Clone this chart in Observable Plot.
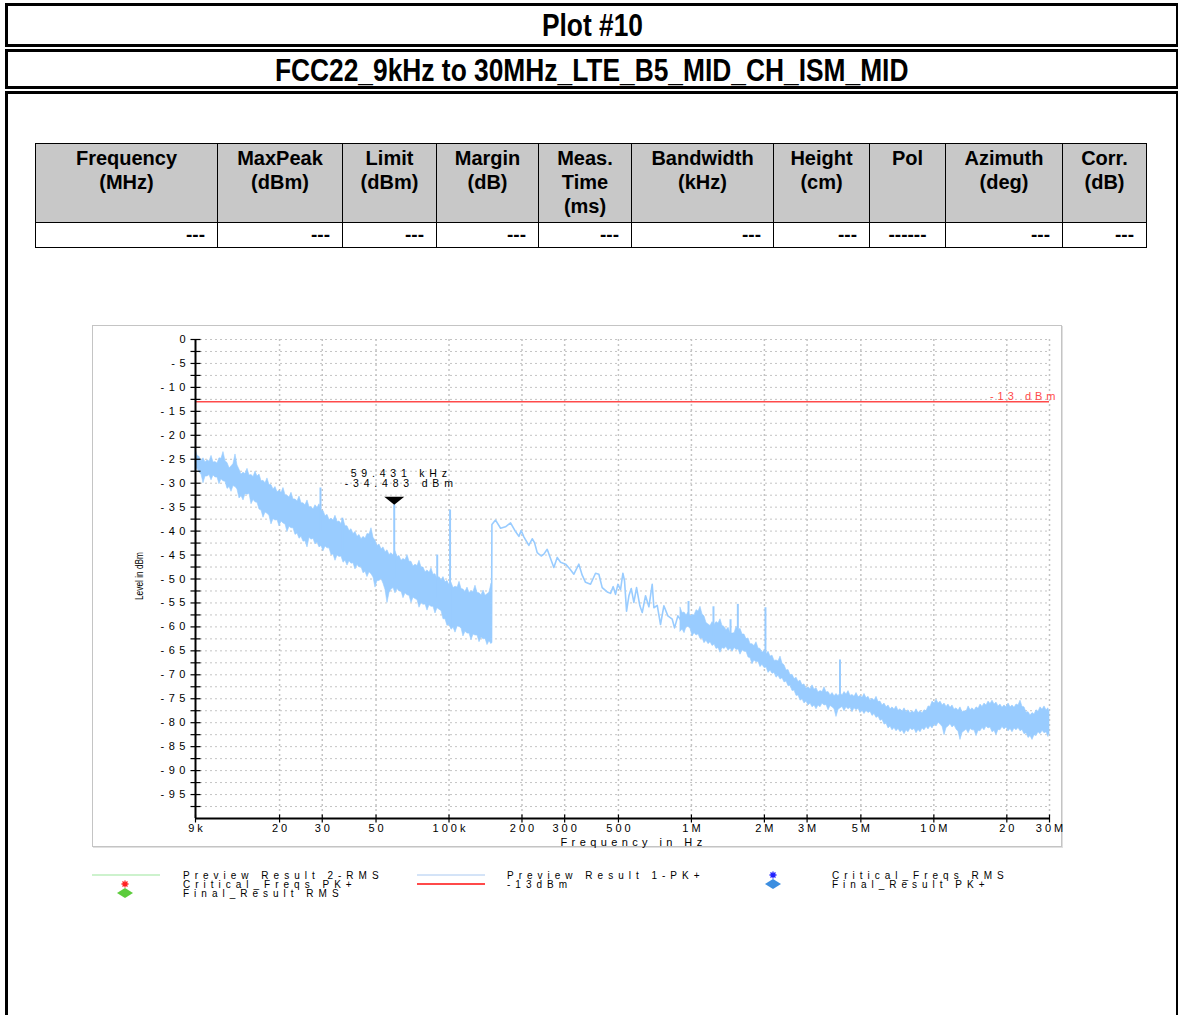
<!DOCTYPE html>
<html>
<head>
<meta charset="utf-8">
<script src="https://cdn.jsdelivr.net/npm/d3@7"></script>
<script src="https://cdn.jsdelivr.net/npm/@observablehq/plot@0.6"></script>
<style>
  html, body { margin: 0; padding: 0; background: #fff; }
  #page { position: relative; width: 1178px; height: 1015px; overflow: hidden; font-family: "Liberation Sans", Arial, sans-serif; color: #000; }
  .frame { position: absolute; left: 5px; width: 1168px; border: 3px solid #000; }
  .hdr { font-family: "Liberation Sans", Arial, sans-serif; font-weight: bold; font-size: 31px; text-align: center; }
  .hdr span { display: inline-block; transform: scaleX(0.85); transform-origin: center; }
  #f1 { top: 3px; height: 38px; line-height: 40px; }
  #f2 { top: 49px; height: 34px; line-height: 38px; }
  #f3 { top: 91px; height: 1000px; }
  table.res { position: absolute; left: 35px; top: 143px; border-collapse: collapse; table-layout: fixed; font-family: "Liberation Sans", Arial, sans-serif; }
  table.res th, table.res td { border: 1px solid #000; padding: 0; }
  table.res th { background: #c8c8c8; font-weight: bold; font-size: 20px; line-height: 24px; height: 76px; vertical-align: top; text-align: center; padding-top: 2px; }
  table.res td { font-weight: bold; font-size: 19px; height: 24px; line-height: 24px; text-align: right; padding-right: 12px; }
  table.res td.c { text-align: center; padding-right: 0; }
  #panel { position: absolute; left: 92px; top: 325px; width: 968px; height: 520px; border: 1px solid #c4c4c4; box-shadow: 1px 1px 0 #e0e0e0; }
  #chart { position: absolute; left: 92px; top: 325px; }
  #chart text[aria-label="xtick"], #chart [aria-description="xtick"] text { letter-spacing: 3px; }
  #chart text[aria-label="ytick"], #chart [aria-description="ytick"] text { letter-spacing: 4.5px; }
  #chart text[aria-label="xtitle"], #chart [aria-description="xtitle"] text { letter-spacing: 4.4px; }
  #chart text[aria-label="mlabel"], #chart [aria-description="mlabel"] text { letter-spacing: 4.8px; }
  #chart text[aria-label="llabel"], #chart [aria-description="llabel"] text { letter-spacing: 4px; }
  .leg { position: absolute; font-size: 10px; letter-spacing: 5px; line-height: 9px; height: 9px; white-space: nowrap; }
  .icon { position: absolute; }
</style>
</head>
<body>
<div id="page">
  <div class="frame hdr" id="f1"><span>Plot #10</span></div>
  <div class="frame hdr" id="f2"><span>FCC22_9kHz to 30MHz_LTE_B5_MID_CH_ISM_MID</span></div>
  <div class="frame" id="f3"></div>
  <div id="tablehost"></div>
  <div id="panel"></div>
  <div id="chart"></div>
  <div id="legend"></div>
</div>
<script>
// ---------------- data ----------------
const tableHeaders = ["Frequency<br>(MHz)", "MaxPeak<br>(dBm)", "Limit<br>(dBm)", "Margin<br>(dB)", "Meas.<br>Time<br>(ms)", "Bandwidth<br>(kHz)", "Height<br>(cm)", "Pol", "Azimuth<br>(deg)", "Corr.<br>(dB)"];
const tableValues = ["---", "---", "---", "---", "---", "---", "---", "------", "---", "---"];
const tableColWidths = [182, 125, 94, 102, 93, 142, 96, 76, 117, 84];

// Preview Result 1-PK+, 9 kHz - 150 kHz: noise envelope (peaks)
const noise1FreqKHz = [9.00, 9.35, 9.71, 10.09, 10.48, 10.88, 11.30, 11.74, 12.20, 12.67,
  13.16, 13.67, 14.20, 14.75, 15.32, 15.91, 16.53, 17.17, 17.83, 18.52,
  19.24, 19.99, 20.76, 21.56, 22.40, 23.27, 24.17, 25.10, 26.08, 27.09,
  28.13, 29.22, 30.36, 31.53, 32.75, 34.02, 35.34, 36.71, 38.13, 39.60,
  41.14, 42.73, 44.39, 46.10, 47.89, 49.74, 51.67, 53.67, 55.75, 57.91,
  60.15, 62.48, 64.90, 67.41, 70.02, 72.74, 75.55, 78.48, 81.52, 84.67,
  87.95, 91.36, 94.90, 98.57, 102.4, 106.4, 110.5, 114.7, 119.2, 123.8,
  128.6, 133.6, 138.8, 144.1, 149.7];
const noise1High = [-22.7, -24.5, -24.8, -25.2, -24.3, -25.6, -24.8, -23.5, -25.8, -26.5,
  -24.0, -27.2, -27.8, -27.0, -28.3, -27.6, -28.2, -29.5, -29.0, -30.4,
  -30.8, -31.6, -31.0, -32.6, -32.0, -33.4, -32.8, -34.2, -33.6, -35.0,
  -34.6, -34.4, -35.8, -36.6, -37.4, -36.8, -38.0, -37.6, -39.0, -39.6,
  -40.2, -40.8, -41.2, -40.6, -39.4, -42.0, -42.8, -43.4, -44.0, -44.6,
  -44.2, -45.2, -45.8, -45.0, -46.4, -47.0, -46.2, -47.6, -48.2, -47.8,
  -49.0, -49.6, -49.6, -50.4, -50.8, -51.6, -50.6, -52.2, -51.8, -52.6,
  -51.4, -53.0, -52.4, -53.2, -51.0];
const noise1Low = [-27.5, -27.8, -30.0, -28.6, -29.4, -28.8, -30.2, -29.6, -31.2, -31.8,
  -30.8, -33.2, -33.6, -32.4, -34.4, -34.0, -35.5, -37.2, -36.4, -38.6,
  -37.8, -39.0, -38.4, -40.2, -39.4, -40.8, -41.6, -42.2, -43.4, -41.8,
  -42.8, -43.4, -44.2, -43.6, -45.0, -46.2, -45.4, -46.6, -47.2, -46.8,
  -48.0, -47.6, -48.8, -49.6, -49.0, -51.8, -50.4, -51.0, -55.0, -52.2,
  -53.0, -52.6, -54.0, -53.4, -55.0, -54.2, -56.0, -55.4, -56.6, -55.8,
  -57.2, -56.4, -58.4, -59.8, -60.6, -61.2, -60.0, -62.0, -61.4, -62.8,
  -61.8, -63.2, -62.6, -63.8, -63.6];
// in-between sweep points of the same band (shallow valleys of the noise)
const noise1MidFreqKHz = [9.17, 9.53, 9.90, 10.28, 10.68, 11.09, 11.52, 11.97, 12.44, 12.91,
  13.41, 13.93, 14.47, 15.03, 15.62, 16.22, 16.85, 17.50, 18.17, 18.88,
  19.61, 20.38, 21.16, 21.98, 22.83, 23.72, 24.64, 25.58, 26.58, 27.61,
  28.67, 29.78, 30.95, 32.14, 33.38, 34.68, 36.02, 37.42, 38.87, 40.36,
  41.93, 43.55, 45.25, 46.99, 48.81, 50.70, 52.67, 54.71, 56.83, 59.03,
  61.31, 63.69, 66.15, 68.71, 71.37, 74.14, 77.01, 80.00, 83.09, 86.30,
  89.65, 93.12, 96.73, 100.5, 104.4, 108.5, 112.6, 116.9, 121.5, 126.2,
  131.1, 136.2, 141.5, 146.9];
const noise1MidHigh = [-24.3, -25.4, -25.7, -25.5, -25.7, -25.9, -24.9, -25.4, -26.9, -26.0,
  -26.3, -28.2, -28.1, -28.4, -28.7, -28.6, -29.6, -30.0, -30.4, -31.3,
  -31.9, -32.0, -32.5, -33.0, -33.4, -33.8, -34.2, -34.6, -35.0, -35.5,
  -35.2, -35.8, -36.9, -37.7, -37.8, -38.1, -38.5, -39.0, -40.0, -40.6,
  -41.2, -41.7, -41.6, -40.7, -41.4, -43.1, -43.8, -44.4, -45.0, -45.1,
  -45.4, -46.2, -46.1, -46.4, -47.4, -47.3, -47.6, -48.6, -48.7, -49.1,
  -50.0, -50.3, -50.7, -51.3, -51.9, -51.8, -52.1, -52.7, -52.9, -52.7,
  -52.9, -53.4, -53.5, -52.8];
const noise1MidLow = [-27.0, -28.2, -28.6, -28.3, -28.4, -28.8, -29.2, -29.7, -30.8, -30.6,
  -31.3, -32.7, -32.3, -32.2, -33.5, -34.1, -35.7, -36.1, -36.8, -37.5,
  -37.7, -38.0, -38.6, -39.1, -39.4, -40.5, -41.2, -42.1, -41.4, -41.6,
  -42.4, -43.1, -43.2, -43.6, -44.9, -45.1, -45.3, -46.2, -46.3, -46.7,
  -47.1, -47.5, -48.5, -48.6, -49.7, -50.4, -50.0, -52.3, -52.9, -51.9,
  -52.1, -52.6, -53.0, -53.5, -53.9, -54.4, -55.0, -55.3, -55.5, -55.8,
  -56.1, -56.7, -58.4, -59.5, -60.2, -59.9, -60.3, -61.0, -61.4, -61.6,
  -61.8, -62.2, -62.5, -63.0];

// Preview Result 1-PK+, 150 kHz - 900 kHz: single sweep trace
const sweepFreqKHz = [149.7, 150.3, 155.6, 163.2, 171.0, 179.4, 188.1, 194.2, 198.5, 203.6,
  213.5, 220.4, 225.3, 231.1, 240.0, 246.2, 254.1, 262.3, 270.7, 279.5,
  288.5, 302.5, 315.3, 327.4, 343.3, 354.4, 365.8, 383.6, 402.2, 415.1,
  428.5, 449.3, 463.8, 475.7, 486.4, 497.4, 510.0, 521.5, 529.8, 540.0,
  552.2, 564.6, 578.9, 593.8, 612.9, 626.7, 646.7, 667.6, 689.0, 700.1,
  722.7, 745.6, 769.7, 799.5, 833.3, 851.9, 879.2, 901.6];
const sweepLevel = [-63.2, -38.6, -37.7, -39.4, -39.1, -38.3, -40.1, -41.1, -39.9, -41.2,
  -43.0, -41.6, -42.4, -44.5, -45.2, -44.8, -43.8, -45.7, -47.6, -45.5,
  -46.5, -46.9, -47.9, -49.0, -46.9, -49.2, -50.7, -51.1, -48.8, -49.0,
  -51.8, -52.7, -53.0, -51.6, -53.2, -51.1, -52.2, -48.8, -50.4, -56.7,
  -53.5, -52.0, -54.9, -51.8, -55.6, -57.0, -53.5, -55.8, -51.1, -56.0,
  -55.5, -59.5, -55.6, -57.7, -58.4, -60.2, -57.7, -58.5];

// Preview Result 1-PK+, 900 kHz - 30 MHz: noise envelope (peaks)
const noise2FreqKHz = [901.6, 936.7, 972.8, 1011, 1050, 1090, 1132, 1176, 1222, 1269,
  1318, 1369, 1423, 1478, 1535, 1594, 1656, 1720, 1786, 1855,
  1927, 2003, 2080, 2160, 2244, 2331, 2421, 2515, 2613, 2714,
  2818, 2927, 3041, 3159, 3281, 3408, 3540, 3678, 3820, 3967,
  4121, 4281, 4447, 4618, 4798, 4983, 5176, 5377, 5585, 5801,
  6026, 6259, 6502, 6753, 7015, 7287, 7569, 7862, 8167, 8482,
  8811, 9152, 9507, 9875, 10260, 10660, 11070, 11490, 11940, 12400,
  12880, 13380, 13910, 14440, 15000, 15580, 16180, 16810, 17460, 18130,
  18830, 19560, 20330, 21110, 21930, 22780, 23660, 24580, 25530, 26510,
  27550, 28610, 29710, 30000];
const noise2High = [-56.0, -57.0, -57.0, -57.5, -56.5, -55.8, -57.8, -59.5, -59.0, -59.0,
  -58.4, -60.0, -60.2, -61.4, -60.0, -60.4, -61.6, -62.4, -63.6, -63.2,
  -64.6, -65.0, -65.2, -66.0, -67.0, -66.2, -68.0, -69.0, -70.0, -70.6,
  -71.2, -72.0, -72.6, -72.2, -72.8, -73.4, -72.6, -73.6, -73.8, -74.0,
  -73.8, -73.6, -73.4, -74.2, -73.8, -74.4, -74.0, -74.6, -75.0, -74.6,
  -75.6, -76.0, -76.4, -76.8, -76.6, -77.2, -77.0, -77.4, -77.6, -77.2,
  -77.6, -77.4, -76.6, -75.6, -75.2, -75.6, -76.0, -76.2, -76.4, -77.0,
  -76.8, -77.6, -76.6, -77.0, -76.8, -76.2, -76.0, -75.6, -75.4, -75.8,
  -76.2, -76.4, -76.0, -76.4, -76.2, -75.4, -76.8, -77.8, -78.0, -77.4,
  -76.8, -76.6, -77.0, -77.4];
const noise2Low = [-61.0, -61.3, -60.0, -62.0, -61.8, -62.5, -63.4, -63.6, -64.0, -64.6,
  -65.4, -64.6, -65.0, -65.2, -64.8, -65.8, -65.2, -66.4, -67.8, -67.4,
  -68.4, -68.6, -69.6, -69.8, -70.6, -71.0, -71.6, -72.4, -73.4, -74.4,
  -75.4, -76.0, -76.4, -76.8, -77.2, -76.8, -76.4, -77.4, -76.8, -78.8,
  -77.0, -77.6, -77.2, -77.8, -77.4, -78.0, -78.2, -78.0, -78.6, -79.0,
  -79.6, -80.4, -81.2, -81.6, -81.8, -82.0, -82.4, -82.0, -81.6, -82.2,
  -82.0, -81.6, -81.4, -81.2, -80.8, -80.4, -82.6, -80.8, -81.0, -81.4,
  -83.6, -81.8, -82.2, -81.6, -82.8, -81.8, -81.6, -81.2, -82.0, -82.6,
  -81.6, -81.4, -81.8, -82.0, -81.6, -81.8, -82.4, -83.2, -83.6, -82.8,
  -82.4, -82.2, -83.0, -82.6];
// in-between sweep points of the same band (shallow valleys of the noise)
const noise2MidFreqKHz = [919.0, 954.8, 991.6, 1030, 1070, 1111, 1154, 1199, 1246, 1293,
  1343, 1395, 1450, 1507, 1565, 1625, 1688, 1753, 1820, 1891,
  1964, 2042, 2120, 2202, 2287, 2376, 2468, 2564, 2663, 2766,
  2872, 2983, 3100, 3220, 3344, 3474, 3608, 3749, 3894, 4044,
  4201, 4364, 4533, 4707, 4891, 5079, 5276, 5481, 5693, 5913,
  6142, 6380, 6627, 6883, 7150, 7428, 7715, 8014, 8325, 8646,
  8981, 9329, 9690, 10070, 10460, 10870, 11280, 11710, 12170, 12640,
  13130, 13640, 14180, 14720, 15290, 15880, 16490, 17130, 17800, 18480,
  19190, 19940, 20720, 21520, 22350, 23220, 24120, 25050, 26020, 27020,
  28080, 29160, 29860];
const noise2MidHigh = [-57.1, -57.6, -57.8, -57.6, -56.8, -57.4, -59.2, -59.8, -59.6, -59.3,
  -59.8, -60.7, -61.4, -61.3, -60.8, -61.6, -62.6, -63.6, -64.0, -64.5,
  -65.4, -65.7, -66.2, -67.1, -67.2, -67.7, -69.1, -70.1, -70.9, -71.5,
  -72.2, -72.9, -73.0, -73.1, -73.7, -73.6, -73.7, -74.3, -74.5, -74.5,
  -74.3, -74.1, -74.4, -74.6, -74.7, -74.8, -74.9, -75.4, -75.4, -75.7,
  -76.4, -76.8, -77.2, -77.3, -77.5, -77.7, -77.8, -78.1, -78.0, -78.0,
  -78.1, -77.6, -76.7, -76.0, -76.0, -76.4, -76.7, -76.9, -77.3, -77.5,
  -77.8, -77.7, -77.4, -77.5, -77.1, -76.7, -76.4, -76.1, -76.2, -76.6,
  -76.9, -76.8, -76.8, -76.9, -76.4, -76.7, -77.9, -78.5, -78.3, -77.7,
  -77.3, -77.4, -77.8];
const noise2MidLow = [-60.55, -60.05, -60.4, -61.3, -61.55, -62.35, -62.9, -63.2, -63.7, -64.4,
  -64.4, -64.2, -64.5, -64.4, -64.7, -64.9, -65.2, -66.5, -67.0, -67.3,
  -67.9, -68.5, -69.1, -69.6, -70.2, -70.7, -71.4, -72.3, -73.3, -74.3,
  -75.1, -75.6, -76.0, -76.4, -76.4, -76.0, -76.3, -76.5, -77.2, -77.3,
  -76.7, -76.8, -76.9, -77.0, -77.1, -77.5, -77.5, -77.7, -78.2, -78.7,
  -79.4, -80.2, -80.8, -81.1, -81.3, -81.6, -81.6, -81.2, -81.3, -81.5,
  -81.2, -80.9, -80.7, -80.4, -80.0, -80.9, -81.1, -80.3, -80.6, -81.9,
  -82.1, -81.4, -81.3, -81.6, -81.7, -81.1, -80.8, -81.0, -81.7, -81.5,
  -80.9, -81.0, -81.3, -81.2, -81.1, -81.5, -82.2, -82.8, -82.6, -82.0,
  -81.7, -82.0, -82.2];

// narrow spurious peaks on the PK+ trace
const spikeFreqKHz = [29.5, 36.3, 59.431, 89.4, 101.0, 972.8, 1233, 1450, 1554, 2020, 4100];
const spikeTop = [-31.0, -37.3, -34.483, -45.0, -35.6, -54.7, -55.8, -58.5, -55.3, -56.0, -66.9];
const spikeBase = [-40, -44, -50, -54, -60, -59, -62, -62, -62, -66, -74];

// marker and limit
const markerFreqKHz = 59.431;
const markerLevel = -34.483;
const limitLevel = -13;
const limitLabel = "-13 dBm";

// axes
const xTickHz = [9e3, 2e4, 3e4, 5e4, 1e5, 2e5, 3e5, 5e5, 1e6, 2e6, 3e6, 5e6, 1e7, 2e7, 3e7];
const xTickLabels = ["9k", "20", "30", "50", "100k", "200", "300", "500", "1M", "2M", "3M", "5M", "10M", "20", "30M"];
const yTickLevels = [0, -5, -10, -15, -20, -25, -30, -35, -40, -45, -50, -55, -60, -65, -70, -75, -80, -85, -90, -95];
const yTickLabels = ["0", "-5", "-10", "-15", "-20", "-25", "-30", "-35", "-40", "-45", "-50", "-55", "-60", "-65", "-70", "-75", "-80", "-85", "-90", "-95"];
const yGridLevels = [0, -2.5, -5, -7.5, -10, -12.5, -15, -17.5, -20, -22.5, -25, -27.5, -30, -32.5, -35, -37.5, -40, -42.5, -45, -47.5,
  -50, -52.5, -55, -57.5, -60, -62.5, -65, -67.5, -70, -72.5, -75, -77.5, -80, -82.5, -85, -87.5, -90, -92.5, -95, -97.5];
const xTitle = "Frequency in Hz";
const yTitle = "Level in dBm";

// legend
const legendItems = [
  {label: "Preview Result 2-RMS", kind: "line", color: "#9be59b"},
  {label: "Critical_Freqs PK+", kind: "star", color: "#ff2020"},
  {label: "Final_Result RMS", kind: "diamond", color: "#5ccc3c"},
  {label: "Preview Result 1-PK+", kind: "line", color: "#a9c8f0"},
  {label: "-13dBm", kind: "line2", color: "#ff4a4a"},
  {label: "Critical_Freqs RMS", kind: "star", color: "#2020ff"},
  {label: "Final_Result PK+", kind: "diamond", color: "#3c8ee0"}
];

// ---------------- table ----------------
{
  const t = document.createElement("table");
  t.className = "res";
  const cg = document.createElement("colgroup");
  tableColWidths.forEach(w => { const c = document.createElement("col"); c.style.width = w + "px"; cg.appendChild(c); });
  t.appendChild(cg);
  const tr1 = document.createElement("tr");
  tableHeaders.forEach(h => { const th = document.createElement("th"); th.innerHTML = h; tr1.appendChild(th); });
  const tr2 = document.createElement("tr");
  tableValues.forEach(v => { const td = document.createElement("td"); td.textContent = v; if (v.length > 3) td.className = "c"; tr2.appendChild(td); });
  t.appendChild(tr1); t.appendChild(tr2);
  document.getElementById("tablehost").appendChild(t);
}

// ---------------- chart ----------------
const mergeBand = (fA, hA, lA, fB, hB, lB) =>
  fA.map((f, i) => ({f: f * 1e3, hi: hA[i], lo: lA[i]}))
    .concat(fB.map((f, i) => ({f: f * 1e3, hi: hB[i], lo: lB[i]})))
    .sort((a, b) => a.f - b.f);
const band1 = mergeBand(noise1FreqKHz, noise1High, noise1Low, noise1MidFreqKHz, noise1MidHigh, noise1MidLow);
const band2 = mergeBand(noise2FreqKHz, noise2High, noise2Low, noise2MidFreqKHz, noise2MidHigh, noise2MidLow);
const sweep = sweepFreqKHz.map((f, i) => ({f: f * 1e3, y: sweepLevel[i]}));
const spikes = spikeFreqKHz.map((f, i) => ({f: f * 1e3, top: spikeTop[i], base: spikeBase[i]}));
const marker = {f: markerFreqKHz * 1e3, y: markerLevel};

const vTick = {draw(ctx) { ctx.moveTo(0, -4); ctx.lineTo(0, 4); }};
const hTick = {draw(ctx) { ctx.moveTo(-5, 0); ctx.lineTo(5, 0); }};
const flatTri = {draw(ctx) { ctx.moveTo(-10, -8); ctx.lineTo(10, -8); ctx.lineTo(0, 0); ctx.closePath(); }};

const traceColor = "#99ccff";
const xMin = xTickHz[0], xMax = xTickHz[xTickHz.length - 1];
const tag = s => ({ariaLabel: () => s, ariaDescription: s});

const chart = Plot.plot({
  width: 970,
  height: 522,
  marginLeft: 103,
  marginRight: 13,
  marginTop: 14,
  marginBottom: 29,
  x: {type: "log", domain: [xMin, xMax], axis: null},
  y: {domain: [-100, 0], axis: null},
  style: {background: "transparent", overflow: "visible", fontFamily: "'Liberation Sans', Arial, sans-serif", fontSize: "11px", color: "#000"},
  marks: [
    Plot.ruleY(yGridLevels, {stroke: "#c4c4c4", strokeDasharray: "2,3", strokeWidth: 1}),
    Plot.ruleX(xTickHz.slice(1), {stroke: "#c4c4c4", strokeDasharray: "2,3", strokeWidth: 1.5}),
    Plot.areaY(band1, {x: "f", y1: "lo", y2: "hi", fill: traceColor, stroke: traceColor, strokeWidth: 0.6}),
    Plot.areaY(band2, {x: "f", y1: "lo", y2: "hi", fill: traceColor, stroke: traceColor, strokeWidth: 0.6}),
    Plot.line(sweep, {x: "f", y: "y", stroke: traceColor, strokeWidth: 1.6}),
    Plot.ruleX(spikes, {x: "f", y1: "base", y2: "top", stroke: traceColor, strokeWidth: 2}),
    Plot.ruleY([limitLevel], {stroke: "#ff4a4a", strokeWidth: 1.5}),
    Plot.text([limitLabel], {x: xMax, y: limitLevel, text: d => d, textAnchor: "end", dx: 10, dy: -5, fill: "#ff4a4a", fontSize: 11, ...tag("llabel")}),
    // axes
    Plot.ruleX([xMin], {stroke: "#000", strokeWidth: 2}),
    Plot.ruleY([-100], {stroke: "#000", strokeWidth: 2}),
    Plot.dot(xTickHz, {x: d => d, y: -100, symbol: vTick, fill: "none", stroke: "#000", strokeWidth: 1.2}),
    Plot.dot(yGridLevels, {x: xMin, y: d => d, symbol: hTick, fill: "none", stroke: "#000", strokeWidth: 1.2}),
    Plot.text(xTickHz, {x: d => d, y: -100, text: (d, i) => xTickLabels[i], dy: 10, dx: 1.5, fontSize: 11, ...tag("xtick")}),
    Plot.text(yTickLevels, {x: xMin, y: d => d, text: (d, i) => yTickLabels[i], textAnchor: "end", dx: -5.5, fontSize: 11, ...tag("ytick")}),
    Plot.text([xTitle], {frameAnchor: "bottom", text: d => d, textAnchor: "middle", lineAnchor: "middle", dy: 24, dx: 11, fontSize: 11, ...tag("xtitle")}),
    Plot.text([yTitle], {frameAnchor: "left", text: d => d, textAnchor: "middle", lineAnchor: "middle", rotate: -90, dx: -56, dy: -3, fontSize: 11, ...tag("ytitle")}),
    // marker
    Plot.dot([marker], {x: "f", y: "y", symbol: flatTri, fill: "#000", stroke: "none"}),
    Plot.text([marker], {x: "f", y: "y", text: d => `${markerFreqKHz.toFixed(3)} kHz`, dy: -31, dx: 7, fontSize: 10.5, ...tag("mlabel")}),
    Plot.text([marker], {x: "f", y: "y", text: d => `${markerLevel.toFixed(3)} dBm`, dy: -21, dx: 7, fontSize: 10.5, ...tag("mlabel")})
  ]
});
document.getElementById("chart").appendChild(chart);
// condense the rotated y title like the narrow font of the original
chart.querySelectorAll("text").forEach(t => {
  if (t.textContent === yTitle) { t.setAttribute("textLength", "48"); t.setAttribute("lengthAdjust", "spacingAndGlyphs"); }
});

// ---------------- legend ----------------
{
  const host = document.getElementById("legend");
  const cols = [{ix: 92, tx: 183, items: [0, 1, 2]}, {ix: 417, tx: 507, items: [3, 4]}, {ix: 740, tx: 832, items: [5, 6]}];
  const rowY = [875, 884, 893];
  const ns = "http://www.w3.org/2000/svg";
  cols.forEach(col => {
    col.items.forEach((k, r) => {
      const it = legendItems[k];
      const y = rowY[r];
      const svg = document.createElementNS(ns, "svg");
      svg.setAttribute("class", "icon");
      svg.setAttribute("width", 70); svg.setAttribute("height", 12);
      svg.style.left = col.ix + "px"; svg.style.top = (y - 6) + "px";
      let el;
      if (it.kind === "line" || it.kind === "line2") {
        el = document.createElementNS(ns, "line");
        el.setAttribute("x1", 0); el.setAttribute("x2", 68); el.setAttribute("y1", 6); el.setAttribute("y2", 6);
        el.setAttribute("stroke", it.color); el.setAttribute("stroke-width", it.kind === "line2" ? 2 : 1);
      } else if (it.kind === "star") {
        el = document.createElementNS(ns, "path");
        el.setAttribute("d", "M33,2.5V9.5M29.5,6H36.5M30.5,3.5L35.5,8.5M35.5,3.5L30.5,8.5");
        el.setAttribute("stroke", it.color); el.setAttribute("stroke-width", 1.3); el.setAttribute("fill", "none");
      } else {
        el = document.createElementNS(ns, "path");
        el.setAttribute("d", "M33,1L41,6L33,11L25,6Z");
        el.setAttribute("fill", it.color);
      }
      svg.appendChild(el);
      host.appendChild(svg);
      const d = document.createElement("div");
      d.className = "leg";
      d.textContent = it.label;
      d.style.left = col.tx + "px"; d.style.top = (y - 4.5) + "px";
      host.appendChild(d);
    });
  });
}
</script>
</body>
</html>
